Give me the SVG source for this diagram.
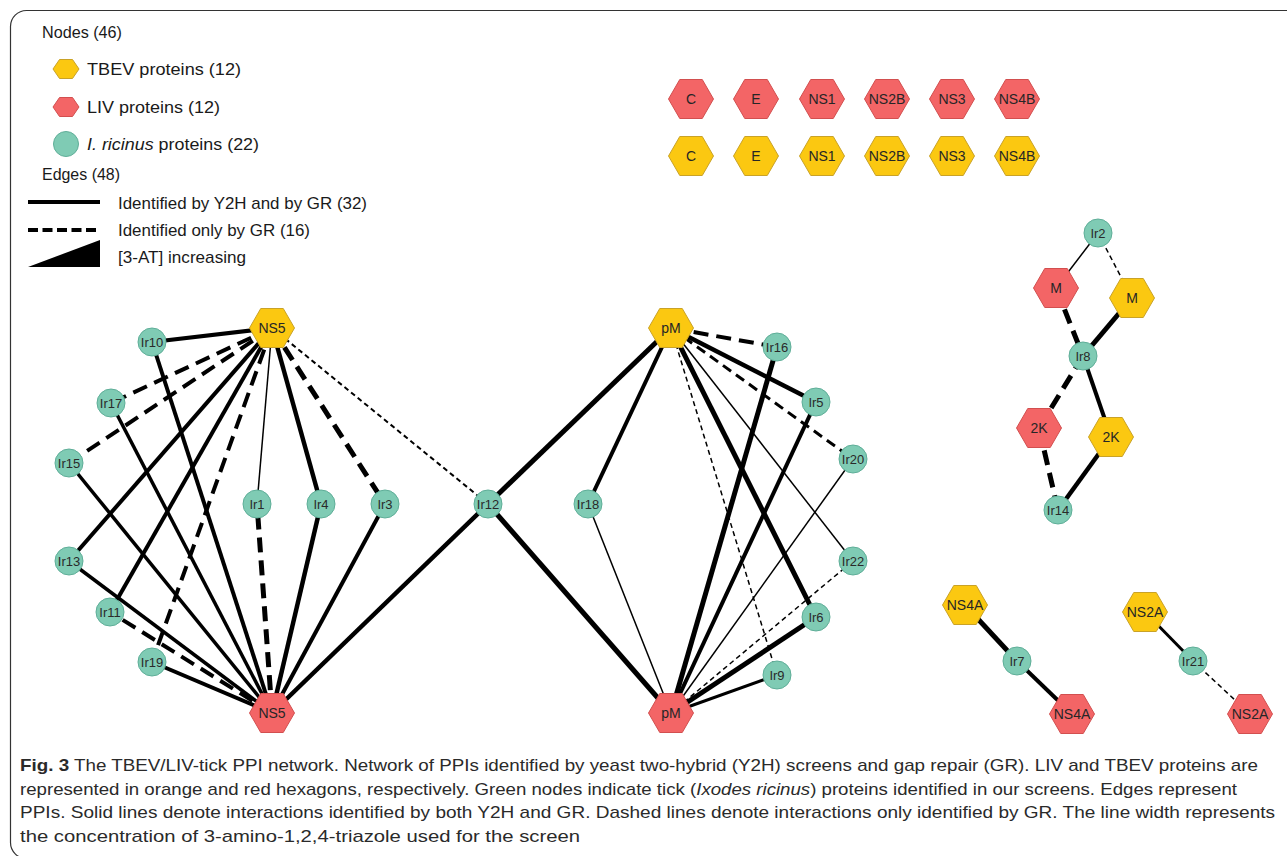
<svg xmlns="http://www.w3.org/2000/svg" xmlns:xlink="http://www.w3.org/1999/xlink" width="1287" height="856" viewBox="0 0 1287 856">
<style>
.lt{font-family:"Liberation Sans",Arial,sans-serif;font-size:17px;fill:#1a1a1a}
.cap{font-family:"Liberation Sans",Arial,sans-serif;font-size:17px;fill:#2a2a2a}
.nl{font-family:"Liberation Sans",Arial,sans-serif;font-size:14px;fill:#262626;text-anchor:middle}
.cl{font-family:"Liberation Sans",Arial,sans-serif;font-size:13px;fill:#2a2a2a;text-anchor:middle}
.y{fill:#fbc811;stroke:#c9a227;stroke-width:1}
.r{fill:#f36566;stroke:#d24f4f;stroke-width:1}
.g{fill:#7fcbb4;stroke:#5fae98;stroke-width:1}
#edges line{stroke:#000;fill:none}
.da{stroke-dasharray:15 8}
.db{stroke-dasharray:10 6}
.dc{stroke-dasharray:5 3.5}
</style>
<defs>
<polygon id="hx" points="-22.5,0 -11.25,-19.5 11.25,-19.5 22.5,0 11.25,19.5 -11.25,19.5"/>
<polygon id="hs" points="-13,0 -6.5,-9.5 6.5,-9.5 13,0 6.5,9.5 -6.5,9.5"/>
</defs>
<rect x="0" y="0" width="1287" height="856" fill="#fff"/>
<rect x="10.5" y="10.5" width="1300" height="848" rx="16" fill="none" stroke="#333" stroke-width="1.2"/>

<g id="legend">
<text class="lt" x="42" y="38" textLength="80" lengthAdjust="spacingAndGlyphs">Nodes (46)</text>
<use xlink:href="#hs" x="66" y="69" class="y"/>
<text class="lt" x="87" y="75" textLength="154" lengthAdjust="spacingAndGlyphs">TBEV proteins (12)</text>
<use xlink:href="#hs" x="66" y="107" class="r"/>
<text class="lt" x="87" y="113" textLength="133" lengthAdjust="spacingAndGlyphs">LIV proteins (12)</text>
<circle cx="66" cy="144" r="12.5" class="g"/>
<text class="lt" x="87" y="150" textLength="172" lengthAdjust="spacingAndGlyphs"><tspan font-style="italic">I. ricinus</tspan> proteins (22)</text>
<text class="lt" x="42" y="180" textLength="78" lengthAdjust="spacingAndGlyphs">Edges (48)</text>
<line x1="28" y1="202" x2="100" y2="202" stroke="#000" stroke-width="4"/>
<text class="lt" x="118" y="209" textLength="249" lengthAdjust="spacingAndGlyphs">Identified by Y2H and by GR (32)</text>
<line x1="28" y1="230" x2="100" y2="230" stroke="#000" stroke-width="4" stroke-dasharray="10 4.5"/>
<text class="lt" x="118" y="236" textLength="192" lengthAdjust="spacingAndGlyphs">Identified only by GR (16)</text>
<polygon points="28,267 100,240 100,267" fill="#000"/>
<text class="lt" x="118" y="263" textLength="128" lengthAdjust="spacingAndGlyphs">[3-AT] increasing</text>
</g>

<g id="edges">
<line x1="272" y1="328" x2="152" y2="342" stroke-width="4"/>
<line x1="272" y1="328" x2="111" y2="403" stroke-width="4" class="da"/>
<line x1="272" y1="328" x2="69" y2="463" stroke-width="4" class="da"/>
<line x1="272" y1="328" x2="69" y2="561" stroke-width="4"/>
<line x1="272" y1="328" x2="110" y2="612" stroke-width="4"/>
<line x1="272" y1="328" x2="152" y2="662" stroke-width="4" class="da"/>
<line x1="272" y1="328" x2="257" y2="504" stroke-width="1.5"/>
<line x1="272" y1="328" x2="321" y2="504" stroke-width="4.5"/>
<line x1="272" y1="328" x2="385" y2="504" stroke-width="5" class="da"/>
<line x1="272" y1="328" x2="488" y2="504" stroke-width="2" class="dc"/>
<line x1="272" y1="713" x2="152" y2="342" stroke-width="4"/>
<line x1="272" y1="713" x2="111" y2="403" stroke-width="3.5"/>
<line x1="272" y1="713" x2="69" y2="463" stroke-width="3.5"/>
<line x1="272" y1="713" x2="69" y2="561" stroke-width="3.5"/>
<line x1="272" y1="713" x2="110" y2="612" stroke-width="4" class="da"/>
<line x1="272" y1="713" x2="152" y2="662" stroke-width="4"/>
<line x1="272" y1="713" x2="257" y2="504" stroke-width="5" class="da"/>
<line x1="272" y1="713" x2="321" y2="504" stroke-width="4.5"/>
<line x1="272" y1="713" x2="385" y2="504" stroke-width="4"/>
<line x1="272" y1="713" x2="488" y2="504" stroke-width="4.5"/>

<line x1="671" y1="328" x2="488" y2="504" stroke-width="5"/>
<line x1="671" y1="328" x2="588" y2="504" stroke-width="4"/>
<line x1="671" y1="328" x2="777" y2="347" stroke-width="4" class="da"/>
<line x1="671" y1="328" x2="816" y2="402" stroke-width="4.5"/>
<line x1="671" y1="328" x2="853" y2="459" stroke-width="3" class="db"/>
<line x1="671" y1="328" x2="853" y2="561" stroke-width="1.5"/>
<line x1="671" y1="328" x2="816" y2="617" stroke-width="5"/>
<line x1="671" y1="328" x2="777" y2="675" stroke-width="1.5" class="dc"/>
<line x1="671" y1="713" x2="488" y2="504" stroke-width="5"/>
<line x1="671" y1="713" x2="588" y2="504" stroke-width="1.5"/>
<line x1="671" y1="713" x2="777" y2="347" stroke-width="5"/>
<line x1="671" y1="713" x2="816" y2="402" stroke-width="4"/>
<line x1="671" y1="713" x2="853" y2="459" stroke-width="1.5"/>
<line x1="671" y1="713" x2="853" y2="561" stroke-width="1.5" class="dc"/>
<line x1="671" y1="713" x2="816" y2="617" stroke-width="5"/>
<line x1="671" y1="713" x2="777" y2="675" stroke-width="3"/>

<line x1="1098" y1="233" x2="1056" y2="288" stroke-width="1.5"/>
<line x1="1098" y1="233" x2="1132" y2="298" stroke-width="1.5" class="dc"/>
<line x1="1056" y1="288" x2="1083" y2="356" stroke-width="5" class="da"/>
<line x1="1132" y1="298" x2="1083" y2="356" stroke-width="5"/>
<line x1="1083" y1="356" x2="1039" y2="428" stroke-width="5" class="da"/>
<line x1="1083" y1="356" x2="1111" y2="437" stroke-width="4"/>
<line x1="1039" y1="428" x2="1058" y2="510" stroke-width="5" class="da"/>
<line x1="1111" y1="437" x2="1058" y2="510" stroke-width="4.5"/>

<line x1="965" y1="605" x2="1017" y2="661" stroke-width="5"/>
<line x1="1017" y1="661" x2="1072" y2="714" stroke-width="4"/>
<line x1="1145" y1="612" x2="1193" y2="661" stroke-width="3"/>
<line x1="1193" y1="661" x2="1250" y2="714" stroke-width="1.5" class="dc"/>
</g>

<g id="n-C-LIV"><use xlink:href="#hx" x="691" y="99" class="r"/><text class="nl" x="691" y="104">C</text></g>
<g id="n-E-LIV"><use xlink:href="#hx" x="756" y="99" class="r"/><text class="nl" x="756" y="104">E</text></g>
<g id="n-NS1-LIV"><use xlink:href="#hx" x="822" y="99" class="r"/><text class="nl" x="822" y="104">NS1</text></g>
<g id="n-NS2B-LIV"><use xlink:href="#hx" x="887" y="99" class="r"/><text class="nl" x="887" y="104">NS2B</text></g>
<g id="n-NS3-LIV"><use xlink:href="#hx" x="952" y="99" class="r"/><text class="nl" x="952" y="104">NS3</text></g>
<g id="n-NS4B-LIV"><use xlink:href="#hx" x="1017" y="99" class="r"/><text class="nl" x="1017" y="104">NS4B</text></g>
<g id="n-C-TBEV"><use xlink:href="#hx" x="691" y="156" class="y"/><text class="nl" x="691" y="161">C</text></g>
<g id="n-E-TBEV"><use xlink:href="#hx" x="756" y="156" class="y"/><text class="nl" x="756" y="161">E</text></g>
<g id="n-NS1-TBEV"><use xlink:href="#hx" x="822" y="156" class="y"/><text class="nl" x="822" y="161">NS1</text></g>
<g id="n-NS2B-TBEV"><use xlink:href="#hx" x="887" y="156" class="y"/><text class="nl" x="887" y="161">NS2B</text></g>
<g id="n-NS3-TBEV"><use xlink:href="#hx" x="952" y="156" class="y"/><text class="nl" x="952" y="161">NS3</text></g>
<g id="n-NS4B-TBEV"><use xlink:href="#hx" x="1017" y="156" class="y"/><text class="nl" x="1017" y="161">NS4B</text></g>

<g id="n-NS5-TBEV"><use xlink:href="#hx" x="272" y="328" class="y"/><text class="nl" x="272" y="333">NS5</text></g>
<g id="n-NS5-LIV"><use xlink:href="#hx" x="272" y="713" class="r"/><text class="nl" x="272" y="718">NS5</text></g>
<g id="n-Ir10"><circle cx="152" cy="342" r="14" class="g"/><text class="cl" x="152" y="347">Ir10</text></g>
<g id="n-Ir17"><circle cx="111" cy="403" r="14" class="g"/><text class="cl" x="111" y="408">Ir17</text></g>
<g id="n-Ir15"><circle cx="69" cy="463" r="14" class="g"/><text class="cl" x="69" y="468">Ir15</text></g>
<g id="n-Ir13"><circle cx="69" cy="561" r="14" class="g"/><text class="cl" x="69" y="566">Ir13</text></g>
<g id="n-Ir11"><circle cx="110" cy="612" r="14" class="g"/><text class="cl" x="110" y="617">Ir11</text></g>
<g id="n-Ir19"><circle cx="152" cy="662" r="14" class="g"/><text class="cl" x="152" y="667">Ir19</text></g>
<g id="n-Ir1"><circle cx="257" cy="504" r="14" class="g"/><text class="cl" x="257" y="509">Ir1</text></g>
<g id="n-Ir4"><circle cx="321" cy="504" r="14" class="g"/><text class="cl" x="321" y="509">Ir4</text></g>
<g id="n-Ir3"><circle cx="385" cy="504" r="14" class="g"/><text class="cl" x="385" y="509">Ir3</text></g>
<g id="n-Ir12"><circle cx="488" cy="504" r="14" class="g"/><text class="cl" x="488" y="509">Ir12</text></g>

<g id="n-pM-TBEV"><use xlink:href="#hx" x="671" y="328" class="y"/><text class="nl" x="671" y="333">pM</text></g>
<g id="n-pM-LIV"><use xlink:href="#hx" x="671" y="713" class="r"/><text class="nl" x="671" y="718">pM</text></g>
<g id="n-Ir18"><circle cx="588" cy="504" r="14" class="g"/><text class="cl" x="588" y="509">Ir18</text></g>
<g id="n-Ir16"><circle cx="777" cy="347" r="14" class="g"/><text class="cl" x="777" y="352">Ir16</text></g>
<g id="n-Ir5"><circle cx="816" cy="402" r="14" class="g"/><text class="cl" x="816" y="407">Ir5</text></g>
<g id="n-Ir20"><circle cx="853" cy="459" r="14" class="g"/><text class="cl" x="853" y="464">Ir20</text></g>
<g id="n-Ir22"><circle cx="853" cy="561" r="14" class="g"/><text class="cl" x="853" y="566">Ir22</text></g>
<g id="n-Ir6"><circle cx="816" cy="617" r="14" class="g"/><text class="cl" x="816" y="622">Ir6</text></g>
<g id="n-Ir9"><circle cx="777" cy="675" r="14" class="g"/><text class="cl" x="777" y="680">Ir9</text></g>

<g id="n-Ir2"><circle cx="1098" cy="233" r="14" class="g"/><text class="cl" x="1098" y="238">Ir2</text></g>
<g id="n-M-LIV"><use xlink:href="#hx" x="1056" y="288" class="r"/><text class="nl" x="1056" y="293">M</text></g>
<g id="n-M-TBEV"><use xlink:href="#hx" x="1132" y="298" class="y"/><text class="nl" x="1132" y="303">M</text></g>
<g id="n-Ir8"><circle cx="1083" cy="356" r="14" class="g"/><text class="cl" x="1083" y="361">Ir8</text></g>
<g id="n-2K-LIV"><use xlink:href="#hx" x="1039" y="428" class="r"/><text class="nl" x="1039" y="433">2K</text></g>
<g id="n-2K-TBEV"><use xlink:href="#hx" x="1111" y="437" class="y"/><text class="nl" x="1111" y="442">2K</text></g>
<g id="n-Ir14"><circle cx="1058" cy="510" r="14" class="g"/><text class="cl" x="1058" y="515">Ir14</text></g>

<g id="n-NS4A-TBEV"><use xlink:href="#hx" x="965" y="605" class="y"/><text class="nl" x="965" y="610">NS4A</text></g>
<g id="n-Ir7"><circle cx="1017" cy="661" r="14" class="g"/><text class="cl" x="1017" y="666">Ir7</text></g>
<g id="n-NS4A-LIV"><use xlink:href="#hx" x="1072" y="714" class="r"/><text class="nl" x="1072" y="719">NS4A</text></g>
<g id="n-NS2A-TBEV"><use xlink:href="#hx" x="1145" y="612" class="y"/><text class="nl" x="1145" y="617">NS2A</text></g>
<g id="n-Ir21"><circle cx="1193" cy="661" r="14" class="g"/><text class="cl" x="1193" y="666">Ir21</text></g>
<g id="n-NS2A-LIV"><use xlink:href="#hx" x="1250" y="714" class="r"/><text class="nl" x="1250" y="719">NS2A</text></g>

<g id="caption">
<text class="cap" x="20" y="771" textLength="1238" lengthAdjust="spacingAndGlyphs"><tspan font-weight="bold">Fig. 3</tspan>  The TBEV/LIV-tick PPI network. Network of PPIs identified by yeast two-hybrid (Y2H) screens and gap repair (GR). LIV and TBEV proteins are</text>
<text class="cap" x="20" y="795" textLength="1217" lengthAdjust="spacingAndGlyphs">represented in orange and red hexagons, respectively. Green nodes indicate tick (<tspan font-style="italic">Ixodes ricinus</tspan>) proteins identified in our screens. Edges represent</text>
<text class="cap" x="20" y="818" textLength="1255" lengthAdjust="spacingAndGlyphs">PPIs. Solid lines denote interactions identified by both Y2H and GR. Dashed lines denote interactions only identified by GR. The line width represents</text>
<text class="cap" x="20" y="842" textLength="560" lengthAdjust="spacingAndGlyphs">the concentration of 3-amino-1,2,4-triazole used for the screen</text>
</g>
</svg>
